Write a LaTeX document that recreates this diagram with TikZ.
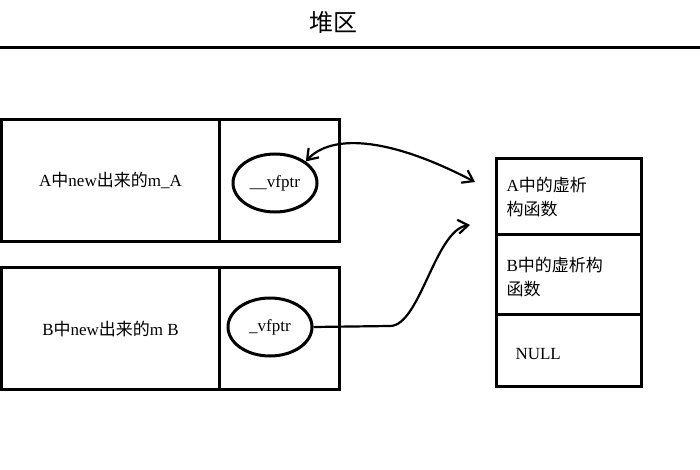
\documentclass[tikz,border=0pt]{standalone}
\usepackage{fontspec}
\setmainfont{Liberation Serif}
\newfontfamily\cjk{Noto Sans CJK SC}
\usetikzlibrary{shapes.geometric,arrows.meta}
\tikzset{
  cell/.style={draw,line width=3pt,anchor=north west,inner sep=0pt},
  ptr/.style={draw,ellipse,line width=3pt,minimum width=84pt,minimum height=58pt,inner sep=0pt},
  link/.style={line width=2.2pt,-{Straight Barb[length=10pt,width=14pt]}},
  txt/.style={font=\fontsize{17}{24}\selectfont},
}
\begin{document}
\begin{tikzpicture}[x=1pt,y=-1pt]
    \useasboundingbox (0,0) rectangle (700,470);
    % heap title
    \node (title) at (333,22) {\cjk\fontsize{24}{26}\selectfont 堆区};
    \draw[line width=3pt] (0,48) -- (700,48);

    % object A
    \node[cell,minimum width=218pt,minimum height=122pt] (objA) at (0,118) {};
    \node[cell,minimum width=120pt,minimum height=122pt] (slotA) at (218,118) {};
    \node[txt] (nameA) at (objA.center) {A{\cjk 中}new{\cjk 出来的}m\_A};
    \node[ptr,txt] (vpA) at (275,183) {\_\_vfptr};

    % object B
    \node[cell,minimum width=218pt,minimum height=122pt] (objB) at (0,266) {};
    \node[cell,minimum width=120pt,minimum height=122pt] (slotB) at (218,266) {};
    \node[txt] (nameB) at (objB.center) {B{\cjk 中}new{\cjk 出来的}m B};
    \node[ptr,txt] (vpB) at (270,327) {\_vfptr};

    % virtual table
    \node[cell,minimum width=145pt,minimum height=76pt] (vtA) at (495,157) {};
    \node[txt,anchor=west,align=left] (tA) at (503,197) {A{\cjk 中的虚析}\\{\cjk 构函数}};
    \node[cell,minimum width=145pt,minimum height=80pt] (vtB) at (495,233) {};
    \node[txt,anchor=west,align=left] (tB) at (503,277) {B{\cjk 中的虚析构}\\{\cjk 函数}};
    \node[cell,minimum width=145pt,minimum height=72pt] (vtN) at (495,313) {};
    \node[txt,anchor=west] (tN) at (512,354) {NULL};

    % pointers
    \coordinate (hA) at (475,182);
    \coordinate (hB) at (470,225);
    \draw[link,{Straight Barb[length=10pt,width=14pt]}-{Straight Barb[length=10pt,width=14pt]}]
        (vpA.north east) .. controls (330,135) and (385,135) .. (hA);
    \draw[link] (vpB.east) -- (390,326) .. controls (420,326) and (435,230) .. (hB);
\end{tikzpicture}
\end{document}
